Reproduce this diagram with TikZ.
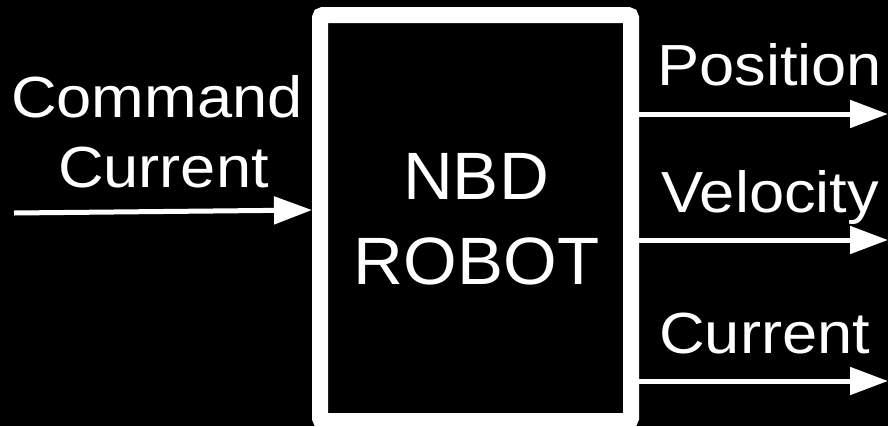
\documentclass[tikz,border=0pt]{standalone}
\usepackage{fontspec}
\setmainfont{Liberation Sans}
\newfontfamily\lblfont[FakeStretch=1.09]{Liberation Sans}
\newfontfamily\boxfont[FakeStretch=1.03]{Liberation Sans}
\usetikzlibrary{arrows.meta}
\begin{document}
\begin{tikzpicture}[x=1pt,y=-1pt,
  lbl/.style={text=white,inner sep=0pt,font=\lblfont\fontsize{58}{70}\selectfont},
  boxlbl/.style={text=white,inner sep=0pt,font=\boxfont\fontsize{67}{80}\selectfont},
  sig/.style={draw=white,line width=5pt,-{Triangle[length=38pt,width=27pt]}}]
\fill[black] (0,0) rectangle (888,426);
\useasboundingbox (0,0) rectangle (888,426);
\node[draw=white,line width=16pt,rounded corners=3pt,minimum width=311pt,minimum height=406pt,inner sep=0pt] (box) at (475.5,218) {};
\node[boxlbl,anchor=base] (nbd) at (476,199) {NBD};
\node[boxlbl,anchor=base] (robot) at (476.5,284) {ROBOT};
\node[lbl,anchor=base] (cmd) at (157,117) {Command};
\node[lbl,anchor=base] (cur) at (163.5,187) {Current};
\node[lbl,anchor=base west] (pos) at (657,85) {Position};
\node[lbl,anchor=base west] (vel) at (661,212) {Velocity};
\node[lbl,anchor=base west] (curo) at (659,353) {Current};
\coordinate (in) at (14,213);
\coordinate (o1) at (888,114);
\coordinate (o2) at (888,240);
\coordinate (o3) at (888,381);
\draw[sig] (in) -- ([yshift=8pt]box.west);
\draw[sig] (o1 -| box.east) -- (o1);
\draw[sig] (o2 -| box.east) -- (o2);
\draw[sig] (o3 -| box.east) -- (o3);
\end{tikzpicture}
\end{document}
